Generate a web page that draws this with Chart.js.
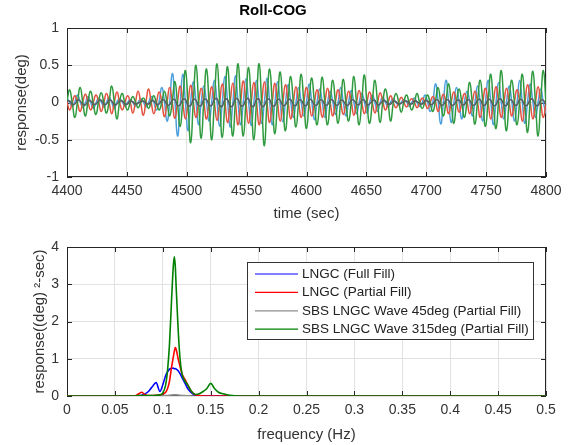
<!DOCTYPE html>
<html>
<head>
<meta charset="utf-8">
<script src="https://cdn.jsdelivr.net/npm/chart.js@4.4.1/dist/chart.umd.min.js"></script>
<style>
  html, body { margin: 0; padding: 0; background: #fff; }
  #wrap { position: relative; width: 568px; height: 445px; }
  #timeChart { position: absolute; left: 0; top: 0; }
  #psdChart { position: absolute; left: 0; top: 225px; }
</style>
</head>
<body>
<div id="wrap">
  <canvas id="timeChart" width="568" height="225"></canvas>
  <canvas id="psdChart" width="568" height="220"></canvas>
</div>
<script>
// ---- Data: time history (sampled every ~2.2 s, 4400..4800 s) ----
const timeStart = 4400;
const timeEnd = 4800;
const sampleCount = 183;

const rollFullFill = [
  0.06, 0.0, -0.05, 0.01, 0.1, 0.01, -0.07, 0.0,
  0.08, 0.0, -0.08, -0.01, 0.06, 0.01, -0.06, 0.0,
  0.07, 0.0, -0.08, 0.01, 0.05, 0.01, -0.05, 0.0,
  0.04, 0.0, -0.05, 0.0, 0.05, 0.01, -0.06, 0.0,
  0.08, 0.0, -0.1, 0.01, 0.2, 0.02, -0.25, 0.0,
  0.39, 0.02, -0.45, -0.02, 0.38, 0.0, -0.38, 0.01,
  0.28, 0.02, -0.3, 0.0, 0.22, 0.0, -0.25, 0.01,
  0.3, 0.01, -0.32, 0.0, 0.35, 0.02, -0.33, -0.01,
  0.36, 0.0, -0.3, 0.01, 0.32, 0.01, -0.31, 0.0,
  0.3, 0.0, -0.28, 0.01, 0.33, 0.01, -0.3, 0.0,
  0.28, 0.0, -0.26, 0.0, 0.24, 0.01, -0.2, 0.0,
  0.2, 0.0, -0.18, 0.01, 0.25, 0.01, -0.23, 0.0,
  0.18, 0.0, -0.2, 0.0, 0.15, 0.01, -0.16, 0.0,
  0.2, 0.0, -0.18, 0.01, 0.16, 0.0, -0.15, 0.0,
  0.12, 0.01, -0.14, 0.0, 0.1, 0.0, -0.12, 0.0,
  0.07, 0.0, -0.06, 0.01, 0.05, 0.0, -0.04, 0.0,
  0.04, 0.01, -0.05, 0.0, 0.06, 0.0, -0.05, 0.0,
  0.1, 0.01, -0.12, 0.0, 0.25, 0.02, -0.29, 0.0,
  0.3, 0.01, -0.27, 0.0, 0.2, 0.0, -0.22, 0.01,
  0.15, 0.01, -0.18, 0.0, 0.22, 0.0, -0.25, 0.01,
  0.3, 0.02, -0.3, 0.0, 0.27, 0.0, -0.22, 0.01,
  0.22, 0.01, -0.25, 0.0, 0.3, 0.0, -0.28, 0.01,
  0.25, 0.01, -0.2, 0.0, 0.18, 0.0, -0.15
];

const rollPartialFill = [
  0.01, -0.1, 0.0, 0.09, -0.01, -0.12, 0.01, 0.11,
  0.0, -0.1, 0.0, 0.1, 0.01, -0.12, 0.0, 0.12,
  0.0, -0.15, 0.01, 0.14, 0.0, -0.1, 0.0, 0.09,
  0.01, -0.14, 0.0, 0.15, 0.0, -0.17, 0.01, 0.18,
  0.0, -0.15, 0.0, 0.14, 0.01, -0.19, 0.0, 0.2,
  0.0, -0.21, 0.01, 0.22, 0.0, -0.22, 0.0, 0.23,
  0.01, -0.2, 0.0, 0.19, 0.0, -0.22, 0.01, 0.21,
  0.0, -0.24, 0.0, 0.25, 0.01, -0.27, 0.0, 0.26,
  0.0, -0.3, 0.01, 0.29, 0.0, -0.28, 0.0, 0.27,
  0.01, -0.3, 0.0, 0.28, 0.0, -0.27, 0.01, 0.26,
  0.0, -0.25, 0.0, 0.24, 0.01, -0.22, 0.0, 0.21,
  0.0, -0.2, 0.01, 0.2, 0.0, -0.18, 0.0, 0.17,
  0.01, -0.2, 0.0, 0.19, 0.0, -0.18, 0.01, 0.17,
  0.0, -0.16, 0.0, 0.15, 0.01, -0.17, 0.0, 0.16,
  0.0, -0.15, 0.01, 0.14, 0.0, -0.14, 0.0, 0.13,
  0.01, -0.1, 0.0, 0.09, 0.0, -0.07, 0.0, 0.07,
  0.0, -0.06, 0.01, 0.05, 0.0, -0.07, 0.0, 0.06,
  0.0, -0.08, 0.0, 0.08, 0.01, -0.12, 0.0, 0.11,
  0.0, -0.15, 0.01, 0.14, 0.0, -0.13, 0.0, 0.12,
  0.01, -0.15, 0.0, 0.15, 0.0, -0.2, 0.01, 0.19,
  0.0, -0.22, 0.0, 0.21, 0.01, -0.2, 0.0, 0.19,
  0.0, -0.18, 0.01, 0.17, 0.0, -0.25, 0.0, 0.24,
  0.01, -0.22, 0.0, 0.21, 0.0, -0.2, 0.01
];

const rollWave45 = [
  0.02, 0.02, -0.02, -0.02, 0.03, 0.02, -0.02, -0.03,
  0.02, 0.02, -0.02, -0.02, 0.02, 0.03, -0.02, -0.02,
  0.03, 0.02, -0.03, -0.02, 0.02, 0.02, -0.02, -0.02,
  0.02, 0.01, -0.02, -0.01, 0.01, 0.02, -0.01, -0.02,
  0.02, 0.02, -0.02, -0.02, 0.03, 0.03, -0.03, -0.03,
  0.03, 0.04, -0.04, -0.03, 0.04, 0.04, -0.04, -0.04,
  0.04, 0.03, -0.04, -0.04, 0.04, 0.04, -0.03, -0.04,
  0.04, 0.05, -0.04, -0.05, 0.04, 0.04, -0.05, -0.04,
  0.05, 0.04, -0.04, -0.04, 0.04, 0.05, -0.04, -0.05,
  0.04, 0.04, -0.05, -0.04, 0.04, 0.04, -0.04, -0.04,
  0.04, 0.03, -0.04, -0.03, 0.03, 0.04, -0.03, -0.04,
  0.03, 0.03, -0.03, -0.04, 0.04, 0.03, -0.03, -0.03,
  0.03, 0.03, -0.03, -0.03, 0.03, 0.03, -0.03, -0.03,
  0.03, 0.02, -0.03, -0.03, 0.03, 0.03, -0.02, -0.03,
  0.03, 0.03, -0.03, -0.02, 0.02, 0.03, -0.03, -0.02,
  0.02, 0.02, -0.02, -0.02, 0.02, 0.01, -0.02, -0.01,
  0.01, 0.02, -0.01, -0.02, 0.02, 0.01, -0.01, -0.02,
  0.02, 0.02, -0.02, -0.02, 0.03, 0.03, -0.03, -0.03,
  0.03, 0.03, -0.03, -0.03, 0.02, 0.03, -0.02, -0.03,
  0.03, 0.03, -0.03, -0.03, 0.03, 0.04, -0.03, -0.03,
  0.04, 0.03, -0.04, -0.03, 0.04, 0.04, -0.03, -0.04,
  0.03, 0.03, -0.03, -0.03, 0.04, 0.03, -0.04, -0.03,
  0.04, 0.04, -0.03, -0.04, 0.03, 0.03, -0.03
];

const rollWave315 = [
  0.02, 0.17, -0.01, -0.2, 0.01, 0.2, 0.0, -0.18,
  0.02, 0.15, -0.02, -0.16, 0.01, 0.13, 0.0, -0.14,
  0.02, 0.22, 0.0, -0.22, 0.01, 0.12, -0.01, -0.1,
  0.0, 0.08, 0.01, -0.07, 0.0, 0.06, 0.0, -0.08,
  0.01, 0.09, -0.01, -0.1, 0.0, 0.15, 0.0, -0.18,
  0.02, 0.28, -0.02, -0.32, 0.03, 0.43, -0.03, -0.54,
  0.02, 0.5, 0.0, -0.48, 0.03, 0.45, -0.02, -0.5,
  0.02, 0.52, 0.01, -0.47, 0.02, 0.48, -0.02, -0.45,
  0.03, 0.52, -0.01, -0.45, 0.02, 0.47, 0.0, -0.5,
  0.02, 0.52, -0.03, -0.58, 0.02, 0.45, 0.0, -0.42,
  0.03, 0.41, -0.02, -0.38, 0.02, 0.35, 0.0, -0.33,
  0.01, 0.38, -0.01, -0.35, 0.02, 0.33, 0.0, -0.3,
  0.02, 0.34, -0.01, -0.3, 0.01, 0.3, 0.0, -0.28,
  0.02, 0.31, -0.01, -0.25, 0.01, 0.35, 0.0, -0.3,
  0.02, 0.37, -0.02, -0.28, 0.01, 0.3, 0.0, -0.27,
  0.01, 0.18, -0.01, -0.25, 0.0, 0.12, 0.01, -0.13,
  0.01, 0.1, 0.0, -0.1, 0.0, 0.12, 0.0, -0.08,
  0.01, 0.1, -0.01, -0.12, 0.02, 0.2, 0.0, -0.18,
  0.02, 0.25, -0.01, -0.28, 0.01, 0.18, 0.0, -0.2,
  0.02, 0.27, -0.01, -0.29, 0.02, 0.3, 0.0, -0.32,
  0.02, 0.38, -0.02, -0.35, 0.03, 0.43, -0.01, -0.38,
  0.02, 0.3, 0.0, -0.3, 0.02, 0.38, -0.02, -0.4,
  0.03, 0.42, 0.0, -0.45, 0.02, 0.43, -0.01
];

// ---- Data: response spectrum ----
const freq = [0, 0.05, 0.07, 0.075, 0.078, 0.081, 0.085, 0.089, 0.093, 0.097,
  0.1, 0.103, 0.105, 0.107, 0.109, 0.111, 0.112, 0.113, 0.114, 0.116,
  0.118, 0.12, 0.123, 0.126, 0.13, 0.134, 0.138, 0.142, 0.146, 0.15,
  0.154, 0.158, 0.163, 0.17, 0.18, 0.2, 0.3, 0.4, 0.5];

const psdFullFill = [0, 0, 0, 0.01, 0.02, 0.05, 0.12, 0.25, 0.36, 0.12,
  0.3, 0.55, 0.65, 0.72, 0.74, 0.75, 0.73, 0.74, 0.72, 0.68,
  0.6, 0.5, 0.35, 0.2, 0.08, 0.02, 0.01, 0, 0, 0,
  0, 0, 0, 0, 0, 0, 0, 0, 0];

const psdPartialFill = [0, 0, 0, 0.06, 0.1, 0.04, 0.01, 0.01, 0.02, 0.03,
  0.05, 0.1, 0.2, 0.4, 0.75, 1.05, 1.2, 1.3, 1.25, 1.0,
  0.8, 0.6, 0.45, 0.3, 0.12, 0.03, 0.01, 0, 0, 0,
  0, 0, 0, 0, 0, 0, 0, 0, 0];

const psdWave45 = [0, 0, 0, 0, 0, 0, 0, 0, 0, 0,
  0.005, 0.01, 0.015, 0.02, 0.025, 0.03, 0.03, 0.03, 0.03, 0.025,
  0.02, 0.015, 0.01, 0.005, 0, 0, 0, 0, 0, 0,
  0, 0, 0, 0, 0, 0, 0, 0, 0];

const psdWave315 = [0, 0, 0, 0.01, 0.01, 0.01, 0.01, 0.01, 0.02, 0.03,
  0.08, 0.3, 0.7, 1.4, 2.5, 3.5, 3.74, 3.5, 2.9, 1.8,
  1.0, 0.6, 0.4, 0.3, 0.12, 0.04, 0.06, 0.12, 0.2, 0.34,
  0.2, 0.1, 0.06, 0.02, 0, 0, 0, 0, 0];

const seriesNames = [
  "LNGC (Full Fill)",
  "LNGC (Partial Fill)",
  "SBS LNGC Wave 45deg (Partial Fill)",
  "SBS LNGC Wave 315deg (Partial Fill)"
];

// ---- Helpers ----
const FONT = "'Liberation Sans', Arial, Helvetica, sans-serif";
const TEXT = "#333333";
const GRID = "#e2e2e2";

const time = Array.from({ length: sampleCount }, (_, i) => timeStart + i * (timeEnd - timeStart) / (sampleCount - 1));
const toPoints = (xs, ys) => xs.map((x, i) => ({ x: x, y: ys[i] }));

// box with inward ticks on all four sides
const boxPlugin = {
  id: "matlabBox",
  beforeDatasetsDraw(chart) {
    const { ctx, chartArea: a, scales: { x, y } } = chart;
    const len = 5;
    ctx.save();
    ctx.strokeStyle = "#262626";
    ctx.lineWidth = 1;
    ctx.beginPath();
    x.ticks.forEach(t => {
      const px = Math.round(x.getPixelForValue(t.value)) + 0.5;
      ctx.moveTo(px, a.bottom); ctx.lineTo(px, a.bottom - len);
      ctx.moveTo(px, a.top); ctx.lineTo(px, a.top + len);
    });
    y.ticks.forEach(t => {
      const py = Math.round(y.getPixelForValue(t.value)) + 0.5;
      ctx.moveTo(a.left, py); ctx.lineTo(a.left + len, py);
      ctx.moveTo(a.right, py); ctx.lineTo(a.right - len, py);
    });
    ctx.stroke();
    ctx.strokeRect(a.left + 0.5, a.top + 0.5, a.right - a.left - 1, a.bottom - a.top - 1);
    ctx.restore();
  }
};

// legend box drawn inside the spectrum axes
const legendPlugin = {
  id: "boxLegend",
  afterDatasetsDraw(chart) {
    const { ctx } = chart;
    const bx = 247, by = 37, bw = 286, bh = 77;
    ctx.save();
    ctx.fillStyle = "#fff";
    ctx.fillRect(bx, by, bw, bh);
    ctx.strokeStyle = "#333";
    ctx.lineWidth = 1;
    ctx.strokeRect(bx + 0.5, by + 0.5, bw, bh);
    ctx.font = "13.5px " + FONT;
    ctx.textBaseline = "middle";
    chart.data.datasets.forEach((ds, i) => {
      const yy = by + 12 + i * 18.4;
      ctx.strokeStyle = ds.borderColor;
      ctx.lineWidth = 1.2;
      ctx.beginPath();
      ctx.moveTo(bx + 8, yy);
      ctx.lineTo(bx + 51, yy);
      ctx.stroke();
      ctx.fillStyle = "#222";
      ctx.fillText(ds.label, bx + 55, yy);
    });
    ctx.restore();
  }
};

function axisBase(min, max, step, fmt, title, titlePad) {
  return {
    type: "linear",
    min: min,
    max: max,
    grid: { color: GRID, drawTicks: false, lineWidth: 1 },
    border: { display: false },
    ticks: {
      stepSize: step,
      color: TEXT,
      font: { family: FONT, size: 14 },
      callback: fmt
    },
    title: { display: true, text: title, color: TEXT, font: { family: FONT, size: 15 }, padding: titlePad }
  };
}

// ---- Top: roll time history ----
const timeX = axisBase(4400, 4800, 50, v => String(v), "time (sec)", { top: 0, bottom: 2 });
timeX.ticks.padding = 5.6;
timeX.afterFit = s => { s.height = 48; };
const timeY = axisBase(-1, 1, 0.5, v => String(v), "response(deg)", { top: 13, bottom: 0 });
timeY.ticks.padding = 8;
timeY.afterFit = s => { s.width = 67; };

new Chart(document.getElementById("timeChart"), {
  type: "line",
  data: {
    datasets: [
      { label: seriesNames[0], data: toPoints(time, rollFullFill), borderColor: "#4d9fdb", order: 3 },
      { label: seriesNames[1], data: toPoints(time, rollPartialFill), borderColor: "#e4533f", order: 2 },
      { label: seriesNames[2], data: toPoints(time, rollWave45), borderColor: "#5c5c5c", order: 0 },
      { label: seriesNames[3], data: toPoints(time, rollWave315), borderColor: "#2f9a3e", order: 1 }
    ]
  },
  options: {
    responsive: false,
    animation: false,
    events: [],
    layout: { padding: { top: 0, right: 22, bottom: 0, left: 0 } },
    elements: {
      point: { radius: 0 },
      line: { borderWidth: 1.5, tension: 0.5, fill: false }
    },
    scales: { x: timeX, y: timeY },
    plugins: {
      legend: { display: false },
      tooltip: { enabled: false },
      title: {
        display: true,
        text: "Roll-COG",
        color: "#000",
        font: { family: FONT, size: 15, weight: "bold" },
        padding: { top: 2, bottom: 8 }
      }
    }
  },
  plugins: [boxPlugin]
});

// ---- Bottom: response spectrum ----
const freqX = axisBase(0, 0.5, 0.05, v => String(Math.round(v * 100) / 100), "frequency (Hz)", { top: 0, bottom: 1 });
freqX.ticks.padding = 5.6;
freqX.afterFit = s => { s.height = 49; };
const freqY = axisBase(0, 4, 1, v => String(v), "response((deg) \u00B2-sec)", { top: 31, bottom: 0 });
freqY.ticks.padding = 8;
freqY.afterFit = s => { s.width = 67; };

new Chart(document.getElementById("psdChart"), {
  type: "line",
  data: {
    datasets: [
      { label: seriesNames[0], data: toPoints(freq, psdFullFill), borderColor: "#0000ff", order: 2 },
      { label: seriesNames[1], data: toPoints(freq, psdPartialFill), borderColor: "#ff0000", order: 1 },
      { label: seriesNames[2], data: toPoints(freq, psdWave45), borderColor: "#8c8c8c", order: 3 },
      { label: seriesNames[3], data: toPoints(freq, psdWave315), borderColor: "#008000", order: 0 }
    ]
  },
  options: {
    responsive: false,
    animation: false,
    events: [],
    layout: { padding: { top: 22, right: 22, bottom: 0, left: 0 } },
    elements: {
      point: { radius: 0 },
      line: { borderWidth: 1.6, cubicInterpolationMode: "monotone", fill: false }
    },
    scales: { x: freqX, y: freqY },
    plugins: {
      legend: { display: false },
      tooltip: { enabled: false }
    }
  },
  plugins: [boxPlugin, legendPlugin]
});
</script>
</body>
</html>
